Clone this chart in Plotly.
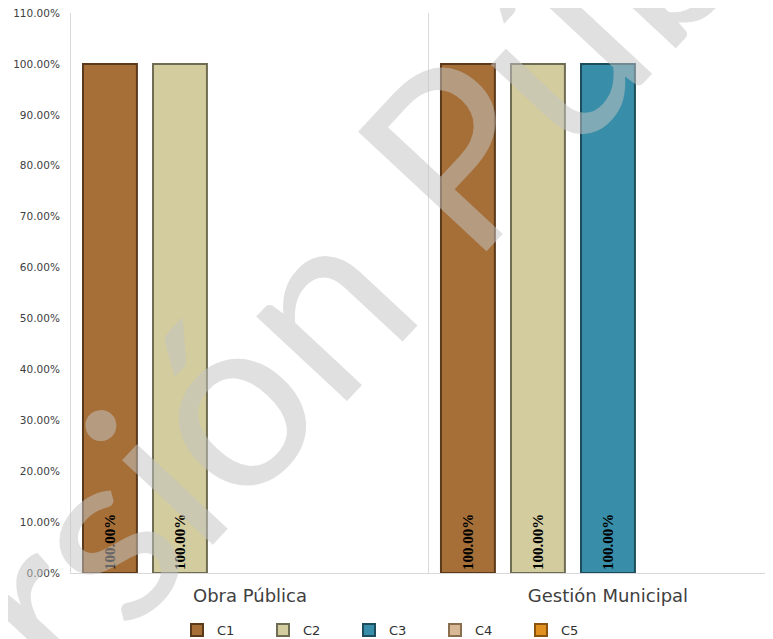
import plotly.graph_objects as go

categories = ["Obra Pública", "Gestión Municipal"]
series_names = ["C1", "C2", "C3", "C4", "C5"]
c1 = [1.0, 1.0]
c2 = [1.0, 1.0]
c3 = [None, 1.0]
c4 = [None, None]
c5 = [None, None]
values = [c1, c2, c3, c4, c5]
y_ticks = [0, 0.1, 0.2, 0.3, 0.4, 0.5, 0.6, 0.7, 0.8, 0.9, 1.0, 1.1]

fills = ["#A66F38", "#D3CC9F", "#388EA8", "#D9B995", "#E0901E"]
edges = ["#5A3A1A", "#6E6C52", "#1D4D5C", "#8A6E50", "#8A5410"]

fig = go.Figure()
for name, vals, fc, ec in zip(series_names, values, fills, edges):
    fig.add_trace(go.Bar(
        name=name, x=categories, y=vals,
        marker=dict(color=fc, line=dict(color=ec, width=2)),
        texttemplate="%{y:.2%}", textposition="inside",
        insidetextanchor="start", textangle=-90,
        insidetextfont=dict(family="Liberation Serif", size=15, color="black", weight="bold"),
        constraintext="none",
    ))

fig.update_layout(
    width=765, height=631,
    margin=dict(l=63, r=0, t=5, b=66, autoexpand=False),
    paper_bgcolor="white", plot_bgcolor="white",
    barmode="group", bargap=0.022, bargroupgap=0.23,
    font=dict(family="DejaVu Sans", color="#404040"),
    showlegend=True,
    legend=dict(orientation="h", x=0.151, xanchor="left", y=-0.102, yanchor="middle",
                entrywidth=41, entrywidthmode="pixels", itemwidth=30,
                font=dict(size=13, color="#303030", family="DejaVu Sans"),
                traceorder="normal"),
    xaxis=dict(type="category", range=[-0.5, 1.461], tickson="boundaries",
               showgrid=True, gridcolor="#D9D9D9", gridwidth=1,
               showline=True, linecolor="#D9D9D9", ticks="", ticklabelstandoff=6,
               tickfont=dict(size=18, color="#404040", family="DejaVu Sans")),
    yaxis=dict(range=[0, 1.1], tickvals=y_ticks, tickformat=".2%",
               showgrid=False, zeroline=False, showline=True, linecolor="#D9D9D9",
               ticks="", ticklabelstandoff=8, ticklabeloverflow="allow",
               tickfont=dict(size=10.5, color="#404040", family="DejaVu Sans")),
)

fig.add_annotation(
    text="Versión Pública", xref="paper", yref="paper", x=0.426, y=0.60,
    showarrow=False, textangle=-47,
    font=dict(family="Lato", size=245, weight=400, color="rgba(195,195,195,0.52)"),
)

fig.write_html("out.html")
